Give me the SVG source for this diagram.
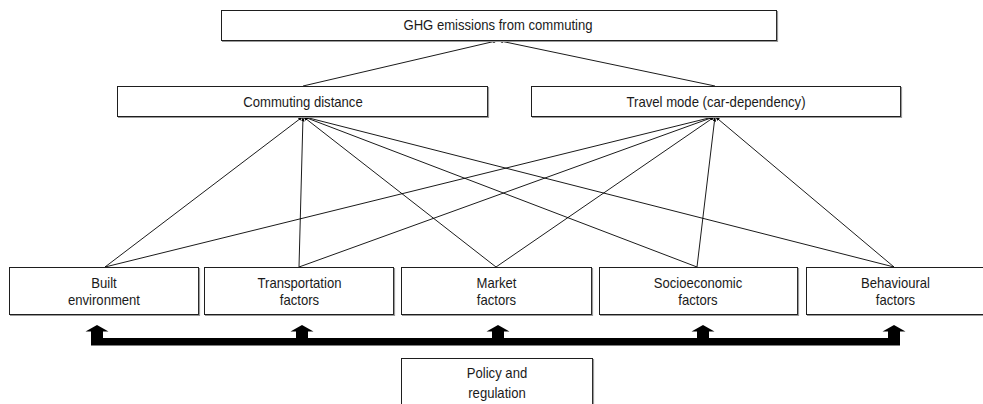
<svg xmlns="http://www.w3.org/2000/svg" xmlns:xlink="http://www.w3.org/1999/xlink" width="983" height="404" viewBox="0 0 983 404">
  <defs>
    <style>
      .box { fill: #ffffff; stroke: #1e1e1e; stroke-width: 1; }
      .shade { fill: none; stroke: #9a9a9a; stroke-width: 1.2; }
      .lbl { font-family: "Liberation Sans", Arial, sans-serif; font-size: 14.5px; fill: #1a1a1a; text-anchor: middle; }
      .link { stroke: #000000; stroke-width: 0.9; fill: none; marker-end: url(#tip); }
    </style>
    <marker id="tip" viewBox="0 0 6 4" refX="6" refY="2" markerWidth="5" markerHeight="3.5" markerUnits="userSpaceOnUse" orient="auto">
      <path d="M0,0 L6,2 L0,4 Z" fill="#000000"/>
    </marker>
    <!-- block arrow pointing up, centred on x=0, tip at y=0 -->
    <path id="upArrow" d="M0,0 L11.5,6.5 L6,6.5 L6,13.5 L-6,13.5 L-6,6.5 L-11.5,6.5 Z" fill="#000000"/>
  </defs>

  <rect width="983" height="404" fill="#ffffff"/>

  <!-- connectors -->
  <g id="connectors">
    <line class="link" x1="303" y1="86" x2="498" y2="40.5"/>
    <line class="link" x1="715" y1="86" x2="498" y2="40.5"/>

    <line class="link" x1="105" y1="267" x2="303" y2="116.5"/>
    <line class="link" x1="299" y1="267" x2="303" y2="116.5"/>
    <line class="link" x1="496" y1="267" x2="303" y2="116.5"/>
    <line class="link" x1="697" y1="267" x2="303" y2="116.5"/>
    <line class="link" x1="894" y1="267" x2="303" y2="116.5"/>

    <line class="link" x1="105" y1="267" x2="715" y2="116.5"/>
    <line class="link" x1="299" y1="267" x2="715" y2="116.5"/>
    <line class="link" x1="496" y1="267" x2="715" y2="116.5"/>
    <line class="link" x1="697" y1="267" x2="715" y2="116.5"/>
    <line class="link" x1="894" y1="267" x2="715" y2="116.5"/>

    <!-- policy feedback bar with upward arrows -->
    <g id="policy-arrows">
      <rect x="91" y="338" width="809" height="7.5" fill="#000000"/>
      <use xlink:href="#upArrow" x="97" y="325"/>
      <use xlink:href="#upArrow" x="302" y="325"/>
      <use xlink:href="#upArrow" x="498" y="325"/>
      <use xlink:href="#upArrow" x="703" y="325"/>
      <use xlink:href="#upArrow" x="894" y="325"/>
    </g>
  </g>

  <g id="ghg">
    <rect class="box" x="221.5" y="10.5" width="555" height="30"/>
    <polyline class="shade" points="777.5,11 777.5,41.5 222,41.5"/>
    <text class="lbl" x="498" y="30" textLength="189" lengthAdjust="spacingAndGlyphs">GHG emissions from commuting</text>
  </g>

  <g id="distance">
    <rect class="box" x="117.5" y="86.5" width="370" height="30"/>
    <polyline class="shade" points="488.5,87 488.5,117.5 118,117.5"/>
    <text class="lbl" x="303" y="106.5" textLength="119.4" lengthAdjust="spacingAndGlyphs">Commuting distance</text>
  </g>

  <g id="mode">
    <rect class="box" x="531.5" y="86.5" width="369" height="30"/>
    <polyline class="shade" points="901.5,87 901.5,117.5 532,117.5"/>
    <text class="lbl" x="716" y="106.5" textLength="179" lengthAdjust="spacingAndGlyphs">Travel mode (car-dependency)</text>
  </g>

  <g id="built">
    <rect class="box" x="9.5" y="267.5" width="189" height="47"/>
    <polyline class="shade" points="199.5,268 199.5,315.5 10,315.5"/>
    <text class="lbl" x="104" y="287.5" textLength="25.5" lengthAdjust="spacingAndGlyphs">Built</text>
    <text class="lbl" x="104" y="305" textLength="72" lengthAdjust="spacingAndGlyphs">environment</text>
  </g>

  <g id="transport">
    <rect class="box" x="204.5" y="267.5" width="189" height="47"/>
    <polyline class="shade" points="394.5,268 394.5,315.5 205,315.5"/>
    <text class="lbl" x="299.5" y="287.5" textLength="84" lengthAdjust="spacingAndGlyphs">Transportation</text>
    <text class="lbl" x="299.5" y="305" textLength="39.3" lengthAdjust="spacingAndGlyphs">factors</text>
  </g>

  <g id="market">
    <rect class="box" x="401.5" y="267.5" width="190" height="47"/>
    <polyline class="shade" points="592.5,268 592.5,315.5 402,315.5"/>
    <text class="lbl" x="496.5" y="287.5" textLength="40" lengthAdjust="spacingAndGlyphs">Market</text>
    <text class="lbl" x="496.5" y="305" textLength="39.3" lengthAdjust="spacingAndGlyphs">factors</text>
  </g>

  <g id="socio">
    <rect class="box" x="599.5" y="267.5" width="198" height="47"/>
    <polyline class="shade" points="798.5,268 798.5,315.5 600,315.5"/>
    <text class="lbl" x="698" y="287.5" textLength="88.5" lengthAdjust="spacingAndGlyphs">Socioeconomic</text>
    <text class="lbl" x="698" y="305" textLength="39.3" lengthAdjust="spacingAndGlyphs">factors</text>
  </g>

  <g id="behaviour">
    <rect class="box" x="806.5" y="267.5" width="178" height="47"/>
    <polyline class="shade" points="984,315.5 807,315.5"/>
    <text class="lbl" x="895.5" y="287.5" textLength="69" lengthAdjust="spacingAndGlyphs">Behavioural</text>
    <text class="lbl" x="895.5" y="305" textLength="39.3" lengthAdjust="spacingAndGlyphs">factors</text>
  </g>

  <g id="policy">
    <rect class="box" x="401.5" y="358.5" width="191" height="60"/>
    <polyline class="shade" points="593.5,359 593.5,404"/>
    <text class="lbl" x="497" y="377.5" textLength="60.4" lengthAdjust="spacingAndGlyphs">Policy and</text>
    <text class="lbl" x="497" y="398" textLength="57.5" lengthAdjust="spacingAndGlyphs">regulation</text>
  </g>
</svg>
